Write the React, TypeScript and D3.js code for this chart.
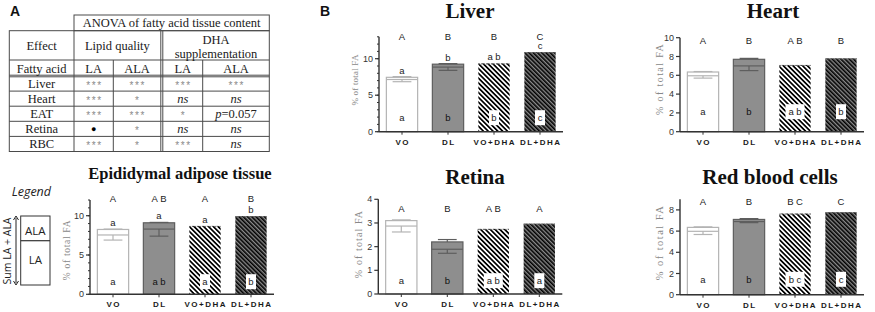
import React from "react";
import * as d3 from "d3";

// ---------- DATA ----------
const groups = ["VO", "DL", "VO+DHA", "DL+DHA"];

// Liver
const liverLA = [7.15, 8.85, 9.05, 10.6];
const liverALA = [0.3, 0.4, 0.3, 0.3];
const liverLAErr = [0.3, 0.45, 0.1, 0.1];
const liverSumErr = [0.1, 0.08, 0.05, 0.05];
const liverSumLetters = ["A", "B", "B", "C"];
const liverALALetters = ["a", "b", "ab", "c"];
const liverLALetters = ["a", "b", "b", "c"];

// Heart
const heartLA = [5.95, 7.0, 6.95, 7.65];
const heartALA = [0.4, 0.7, 0.15, 0.15];
const heartLAErr = [0.25, 0.5, 0.05, 0.05];
const heartSumErr = [0.05, 0.1, 0.03, 0.03];
const heartSumLetters = ["A", "B", "AB", "B"];
const heartLALetters = ["a", "b", "ab", "b"];

// Epididymal adipose tissue
const eatLA = [7.55, 8.3, 8.2, 9.5];
const eatALA = [0.7, 0.8, 0.5, 0.45];
const eatLAErr = [0.65, 0.9, 0.1, 0.1];
const eatSumErr = [0.05, 0.05, 0.03, 0.03];
const eatSumLetters = ["A", "AB", "A", "B"];
const eatALALetters = ["a", "a", "a", "b"];
const eatLALetters = ["a", "ab", "a", "b"];

// Retina
const retinaLA = [2.87, 1.89, 2.55, 2.85];
const retinaALA = [0.23, 0.31, 0.2, 0.12];
const retinaLAErr = [0.25, 0.17, 0.03, 0.03];
const retinaSumErr = [0.03, 0.1, 0.02, 0.04];
const retinaSumLetters = ["A", "B", "AB", "A"];
const retinaLALetters = ["a", "b", "ab", "a"];

// Red blood cells
const rbcLA = [5.98, 6.9, 7.5, 7.65];
const rbcALA = [0.37, 0.2, 0.15, 0.13];
const rbcLAErr = [0.3, 0.1, 0.05, 0.05];
const rbcSumErr = [0.05, 0.08, 0.03, 0.03];
const rbcSumLetters = ["A", "B", "BC", "C"];
const rbcLALetters = ["a", "b", "bc", "c"];

// ANOVA table
const tableTissues = ["Liver", "Heart", "EAT", "Retina", "RBC"];
const lipidLA = ["***", "***", "***", "●", "***"];
const lipidALA = ["***", "*", "***", "*", "*"];
const dhaLA = ["***", "ns", "*", "ns", "***"];
const dhaALA = ["***", "ns", "p=0.057", "ns", "ns"];

// ---------- STYLE ----------
const SANS = "'Liberation Sans', Arial, sans-serif";
const SERIF = "'Liberation Serif', 'Times New Roman', serif";
const LEG = "'Open Sans', 'Liberation Sans', sans-serif";

type PanelLayout = {
  title: string;
  titleX: number;
  titleY: number;
  titleSize: number;
  axisX: number;
  y0: number;
  yTop: number;
  max: number;
  ticks: number[];
  minorStep?: number;
  upperY: number;
  laOffset: number;
  ylab: { x: number; y: number; fs: number; ls: number };
};

type PanelProps = {
  layout: PanelLayout;
  la: number[];
  ala: number[];
  laErr: number[];
  sumErr: number[];
  sumLetters: string[];
  alaLetters?: string[];
  laLetters: string[];
};

const barStyles = [
  { fill: "#ffffff", stroke: "#b4b4b4" },
  { fill: "#8e8e8e", stroke: "#5e5e5e" },
  { fill: "url(#hatchW)", stroke: "none" },
  { fill: "url(#hatchG)", stroke: "none" },
];

function Panel({ layout, la, ala, laErr, sumErr, sumLetters, alaLetters, laLetters }: PanelProps) {
  const L = layout;
  const x = d3
    .scaleBand<string>()
    .domain(groups)
    .range([L.axisX, L.axisX + 184])
    .paddingInner(0.32)
    .paddingOuter(0.16);
  const y = d3.scaleLinear().domain([0, L.max]).range([L.y0, L.yTop]);
  const w = x.bandwidth();
  const minor = L.minorStep ? d3.range(0, L.max + 1e-9, L.minorStep) : [];
  const axisColor = "#333";
  return (
    <g>
      <text
        x={L.titleX}
        y={L.titleY}
        textAnchor="middle"
        fontFamily={SERIF}
        fontWeight="bold"
        fontSize={L.titleSize}
        fill="#111"
      >
        {L.title}
      </text>
      {groups.map((g, i) => {
        const x0 = x(g)!;
        const cx = x0 + w / 2;
        const tot = la[i] + ala[i];
        const yLA = y(la[i]);
        const yTot = y(tot);
        const st = barStyles[i];
        const plain = i < 2;
        const capW = w * 0.3;
        const ls = (s: string) => (s.length > 1 ? 2.4 : 0);
        const dx = (s: string) => (s.length > 1 ? 1.2 : 0);
        return (
          <g key={g}>
            <rect
              x={x0}
              y={yTot}
              width={w}
              height={L.y0 - yTot}
              fill={st.fill}
              stroke={st.stroke}
              strokeWidth={1.2}
            />
            {plain && (
              <g stroke={st.stroke} strokeWidth={1.2}>
                <line x1={x0} x2={x0 + w} y1={yLA} y2={yLA} />
                <line x1={cx} x2={cx} y1={yLA} y2={y(la[i] - laErr[i])} />
                <line
                  x1={cx - capW}
                  x2={cx + capW}
                  y1={y(la[i] - laErr[i])}
                  y2={y(la[i] - laErr[i])}
                />
                <line x1={cx} x2={cx} y1={yTot} y2={y(tot + sumErr[i])} />
                <line
                  x1={cx - capW}
                  x2={cx + capW}
                  y1={y(tot + sumErr[i])}
                  y2={y(tot + sumErr[i])}
                />
              </g>
            )}
            {!plain && (
              <line
                x1={x0}
                x2={x0 + w}
                y1={yTot + 0.5}
                y2={yTot + 0.5}
                stroke="#666"
                strokeWidth={1}
                strokeDasharray="1.5,1"
              />
            )}
            <text
              x={cx + dx(sumLetters[i])}
              y={L.upperY}
              textAnchor="middle"
              fontFamily={SANS}
              fontSize={9.5}
              letterSpacing={ls(sumLetters[i])}
              fill="#222"
            >
              {sumLetters[i]}
            </text>
            {alaLetters && (
              <text
                x={cx + dx(alaLetters[i])}
                y={y(tot + sumErr[i]) - 3}
                textAnchor="middle"
                fontFamily={SANS}
                fontSize={9.5}
                letterSpacing={ls(alaLetters[i])}
                fill="#222"
              >
                {alaLetters[i]}
              </text>
            )}
            {!plain && (
              <rect
                x={cx - (laLetters[i].length > 1 ? 9.5 : 5)}
                y={L.y0 - L.laOffset - 7.5}
                width={laLetters[i].length > 1 ? 19 : 10}
                height={15}
                fill="#fff"
              />
            )}
            <text
              x={cx + dx(laLetters[i])}
              y={L.y0 - L.laOffset + 3.4}
              textAnchor="middle"
              fontFamily={SANS}
              fontSize={9.5}
              letterSpacing={ls(laLetters[i])}
              fill={i === 1 ? "#111" : "#222"}
            >
              {laLetters[i]}
            </text>
            <line x1={cx} x2={cx} y1={L.y0} y2={L.y0 + 3} stroke={axisColor} strokeWidth={1} />
            <text
              x={cx + 0.75}
              y={L.y0 + 13}
              textAnchor="middle"
              fontFamily={SANS}
              fontWeight="bold"
              fontSize={8}
              letterSpacing={1.5}
              fill="#1a1a1a"
            >
              {g}
            </text>
          </g>
        );
      })}
      <line x1={L.axisX} x2={L.axisX + 184} y1={L.y0} y2={L.y0} stroke={axisColor} strokeWidth={1.4} />
      <line x1={L.axisX} x2={L.axisX} y1={L.y0} y2={L.yTop} stroke={axisColor} strokeWidth={1.4} />
      {minor.map((t) => (
        <line
          key={"m" + t}
          x1={L.axisX - 2}
          x2={L.axisX}
          y1={y(t)}
          y2={y(t)}
          stroke={axisColor}
          strokeWidth={1}
        />
      ))}
      {L.ticks.map((t) => (
        <g key={"t" + t}>
          <line x1={L.axisX - 4} x2={L.axisX} y1={y(t)} y2={y(t)} stroke={axisColor} strokeWidth={1.2} />
          <text
            x={L.axisX - 6}
            y={y(t)}
            dy="0.35em"
            textAnchor="end"
            fontFamily={SANS}
            fontSize={9}
            fill="#333"
          >
            {t}
          </text>
        </g>
      ))}
      <text
        transform={`translate(${L.ylab.x},${L.ylab.y}) rotate(-90)`}
        textAnchor="middle"
        dy="0.35em"
        fontFamily={SERIF}
        fontSize={L.ylab.fs}
        letterSpacing={L.ylab.ls}
        fill="#888"
      >
        % of total FA
      </text>
    </g>
  );
}

const liverLayout: PanelLayout = {
  title: "Liver", titleX: 470, titleY: 18, titleSize: 21,
  axisX: 379, y0: 131.7, yTop: 36.8, max: 13, ticks: [0, 5, 10], minorStep: 1,
  upperY: 39.5, laOffset: 14, ylab: { x: 355, y: 80, fs: 9, ls: 0.2 },
};
const heartLayout: PanelLayout = {
  title: "Heart", titleX: 773, titleY: 18, titleSize: 21,
  axisX: 680, y0: 131.7, yTop: 37.7, max: 10, ticks: [0, 2, 4, 6, 8, 10],
  upperY: 44, laOffset: 20, ylab: { x: 659, y: 79, fs: 10, ls: 1.4 },
};
const eatLayout: PanelLayout = {
  title: "Epididymal adipose tissue", titleX: 180, titleY: 179, titleSize: 16.5,
  axisX: 90, y0: 294.3, yTop: 200, max: 12, ticks: [0, 5, 10], minorStep: 1,
  upperY: 201.6, laOffset: 12.6, ylab: { x: 67, y: 250, fs: 9.5, ls: 0.7 },
};
const retinaLayout: PanelLayout = {
  title: "Retina", titleX: 475, titleY: 184, titleSize: 21,
  axisX: 378.3, y0: 294, yTop: 199.3, max: 4, ticks: [0, 1, 2, 3, 4],
  upperY: 211.6, laOffset: 13.3, ylab: { x: 358, y: 244, fs: 10, ls: 1.1 },
};
const rbcLayout: PanelLayout = {
  title: "Red blood cells", titleX: 770, titleY: 184, titleSize: 21,
  axisX: 680, y0: 294.7, yTop: 199.3, max: 9, ticks: [0, 2, 4, 6, 8],
  upperY: 205, laOffset: 15.4, ylab: { x: 659, y: 242.5, fs: 10.5, ls: 1.45 },
};

// ---------- TABLE ----------
const T = { left: 9.3, c1: 74, c2: 113.3, c3a: 160.8, c3b: 162.8, c4: 202.7, right: 269.3, top: 15, r1: 30.7, r2: 60, r3: 76, bottom: 151.5 };

function Cell({ v, x, y }: { v: string; x: number; y: number }) {
  if (v.startsWith("*")) {
    return (
      <text x={x + (v.length > 1 ? 0.8 : 0)} y={y + 5.5} textAnchor="middle" fontFamily={SANS} fontSize={10} letterSpacing={v.length > 1 ? 1.6 : 0} fill="#8a8a8a">
        {v}
      </text>
    );
  }
  if (v === "ns") {
    return (
      <text x={x} y={y + 4.2} textAnchor="middle" fontFamily={SERIF} fontStyle="italic" fontSize={12.5} fill="#222">
        ns
      </text>
    );
  }
  if (v.startsWith("p=")) {
    return (
      <text x={x} y={y + 4.4} textAnchor="middle" fontFamily={SERIF} fontSize={12.5} fill="#222">
        <tspan fontStyle="italic">p</tspan>
        {v.slice(1)}
      </text>
    );
  }
  return (
    <text x={x} y={y + 3.2} textAnchor="middle" fontFamily={SANS} fontSize={9} fill="#000">
      {v}
    </text>
  );
}

function AnovaTable() {
  const rows = d3.scaleBand<string>().domain(tableTissues).range([T.r3, T.bottom]);
  const rh = rows.bandwidth();
  const line = "#4a4a4a";
  const fs = 12.5;
  const colX = {
    eff: (T.left + T.c1) / 2,
    la1: (T.c1 + T.c2) / 2,
    ala1: (T.c2 + T.c3a) / 2,
    la2: (T.c3b + T.c4) / 2,
    ala2: (T.c4 + T.right) / 2,
  };
  return (
    <g>
      <g stroke={line} strokeWidth={1} fill="none">
        <rect x={T.c1} y={T.top} width={T.right - T.c1} height={T.r1 - T.top} />
        <rect x={T.left} y={T.r1} width={T.right - T.left} height={T.bottom - T.r1} />
        <line x1={T.left} x2={T.right} y1={T.r2} y2={T.r2} />
        <line x1={T.left} x2={T.right} y1={T.r3 - 0.8} y2={T.r3 - 0.8} />
        <line x1={T.left} x2={T.right} y1={T.r3 + 0.8} y2={T.r3 + 0.8} />
        {tableTissues.slice(1).map((t) => (
          <line key={t} x1={T.left} x2={T.right} y1={rows(t)!} y2={rows(t)!} />
        ))}
        <line x1={T.c1} x2={T.c1} y1={T.r1} y2={T.bottom} />
        <line x1={T.c2} x2={T.c2} y1={T.r2} y2={T.bottom} />
        <line x1={T.c3a} x2={T.c3a} y1={T.r1} y2={T.bottom} />
        <line x1={T.c3b} x2={T.c3b} y1={T.r1} y2={T.bottom} />
        <line x1={T.c4} x2={T.c4} y1={T.r2} y2={T.bottom} />
      </g>
      <g fontFamily={SERIF} fontSize={fs} fill="#1a1a1a" textAnchor="middle">
        <text x={(T.c1 + T.right) / 2} y={27}>ANOVA of fatty acid tissue content</text>
        <text x={colX.eff} y={49.5}>Effect</text>
        <text x={(T.c1 + T.c3a) / 2} y={49.5}>Lipid quality</text>
        <text x={(T.c3b + T.right) / 2} y={44.3}>DHA</text>
        <text x={(T.c3b + T.right) / 2} y={57.6}>supplementation</text>
        <text x={colX.eff} y={72.5}>Fatty acid</text>
        <text x={colX.la1} y={72.5}>LA</text>
        <text x={colX.ala1} y={72.5}>ALA</text>
        <text x={colX.la2} y={72.5}>LA</text>
        <text x={colX.ala2} y={72.5}>ALA</text>
        {tableTissues.map((t) => (
          <text key={t} x={colX.eff} y={rows(t)! + rh / 2 + 4.4}>{t}</text>
        ))}
      </g>
      {tableTissues.map((t, i) => {
        const cy = rows(t)! + rh / 2;
        return (
          <g key={"c" + t}>
            <Cell v={lipidLA[i]} x={colX.la1} y={cy} />
            <Cell v={lipidALA[i]} x={colX.ala1} y={cy} />
            <Cell v={dhaLA[i]} x={colX.la2} y={cy} />
            <Cell v={dhaALA[i]} x={colX.ala2} y={cy} />
          </g>
        );
      })}
    </g>
  );
}

function Legend() {
  return (
    <g fontFamily={LEG} fill="#222">
      <text x={11.7} y={196} fontStyle="italic" fontSize={12.5}>Legend</text>
      <rect x={20.7} y={216} width={29.3} height={69} fill="#fff" stroke="#333" strokeWidth={1} />
      <line x1={20.7} x2={50} y1={240.7} y2={240.7} stroke="#333" strokeWidth={1.2} />
      <text x={35.3} y={230.7} dy="0.35em" textAnchor="middle" fontSize={11.5}>ALA</text>
      <text x={35.3} y={260} dy="0.35em" textAnchor="middle" fontSize={11.5}>LA</text>
      <line x1={16} x2={16} y1={218} y2={283} stroke="#222" strokeWidth={1} />
      <path d="M13.5,220 L16,216 L18.5,220" fill="none" stroke="#222" strokeWidth={1} />
      <path d="M13.5,281 L16,285 L18.5,281" fill="none" stroke="#222" strokeWidth={1} />
      <text transform="translate(7.5,251) rotate(-90)" textAnchor="middle" dy="0.35em" fontSize={10.5}>
        Sum LA + ALA
      </text>
    </g>
  );
}

export default function App() {
  return (
    <svg
      width={875}
      height={312}
      viewBox="0 0 875 312"
      style={{ position: "absolute", left: 0, top: 0, background: "#fff" }}
    >
      <defs>
        <pattern id="hatchW" patternUnits="userSpaceOnUse" width={3.4} height={10} patternTransform="rotate(-45)">
          <rect width={3.4} height={10} fill="#fff" />
          <rect width={1.7} height={10} fill="#000" />
        </pattern>
        <pattern id="hatchG" patternUnits="userSpaceOnUse" width={3.0} height={10} patternTransform="rotate(-45)">
          <rect width={3.0} height={10} fill="#8a8a8a" />
          <rect width={1.6} height={10} fill="#000" />
        </pattern>
      </defs>
      <rect width={875} height={312} fill="#fff" />
      <text x={10} y={15.5} fontFamily={SANS} fontWeight="bold" fontSize={14} fill="#111">A</text>
      <text x={320} y={15.5} fontFamily={SANS} fontWeight="bold" fontSize={14} fill="#111">B</text>
      <AnovaTable />
      <Legend />
      <Panel layout={eatLayout} la={eatLA} ala={eatALA} laErr={eatLAErr} sumErr={eatSumErr} sumLetters={eatSumLetters} alaLetters={eatALALetters} laLetters={eatLALetters} />
      <Panel layout={liverLayout} la={liverLA} ala={liverALA} laErr={liverLAErr} sumErr={liverSumErr} sumLetters={liverSumLetters} alaLetters={liverALALetters} laLetters={liverLALetters} />
      <Panel layout={heartLayout} la={heartLA} ala={heartALA} laErr={heartLAErr} sumErr={heartSumErr} sumLetters={heartSumLetters} laLetters={heartLALetters} />
      <Panel layout={retinaLayout} la={retinaLA} ala={retinaALA} laErr={retinaLAErr} sumErr={retinaSumErr} sumLetters={retinaSumLetters} laLetters={retinaLALetters} />
      <Panel layout={rbcLayout} la={rbcLA} ala={rbcALA} laErr={rbcLAErr} sumErr={rbcSumErr} sumLetters={rbcSumLetters} laLetters={rbcLALetters} />
    </svg>
  );
}
